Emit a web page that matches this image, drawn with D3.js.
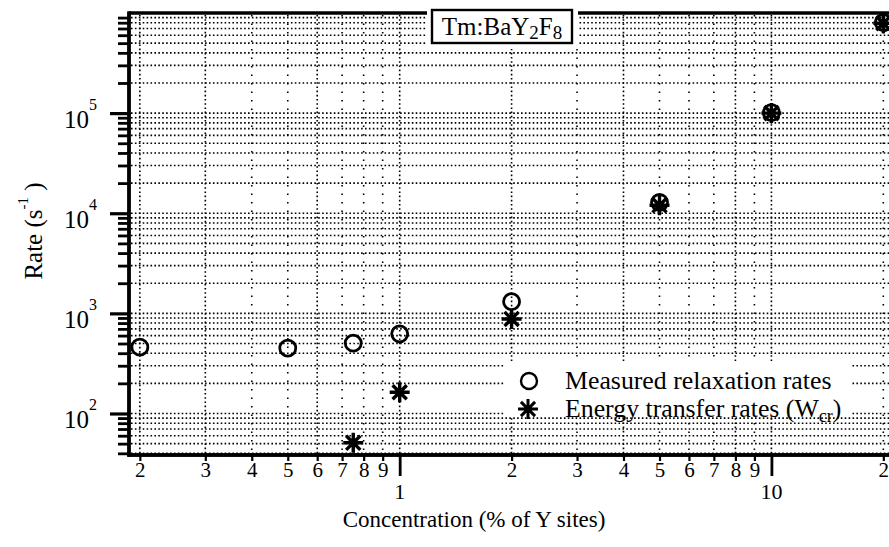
<!DOCTYPE html>
<html>
<head>
<meta charset="utf-8">
<script src="https://cdn.jsdelivr.net/npm/d3@7"></script>
<style>
  html, body { margin: 0; padding: 0; background: #fff; }
  svg { display: block; font-family: "Liberation Serif", "Times New Roman", serif; }
</style>
</head>
<body>
<svg id="chart" width="889" height="547"></svg>
<script>
// Relaxation and energy-transfer rates in Tm:BaY2F8 versus Tm concentration
const concMeasured   = [0.2, 0.5, 0.75, 1, 2, 5, 10, 20];
const measuredRates  = [460, 450, 505, 625, 1310, 12800, 101000, 800000];
const concTransfer   = [0.75, 1, 2, 5, 10, 20];
const transferRates  = [51, 163, 880, 12000, 100000, 790000];
const yDecadeLabels  = [{ v: 1e2, e: "2" }, { v: 1e3, e: "3" }, { v: 1e4, e: "4" }, { v: 1e5, e: "5" }];
const xMajorLabels   = [{ v: 1, t: "1" }, { v: 10, t: "10" }];
const legendLabels   = ["Measured relaxation rates", "Energy transfer rates (W"];

const svg = d3.select("#chart");
const x = d3.scaleLog().domain([0.187, 21.5]).range([129, 895]);
const y = d3.scaleLog().domain([38.5, 1e6]).range([455, 13]);

const [x0, x1] = x.range();
const [yb, yt] = y.range();

const lead = d => Math.round(d / Math.pow(10, Math.floor(Math.log10(d) + 1e-9)));
const isDecade = d => lead(d) === 1;

// ---- dotted grid -------------------------------------------------------
const yTicks = y.ticks().filter(d => y(d) > yt + 2 && y(d) < yb - 1);
const xTicks = x.ticks().filter(d => x(d) > x0 + 2);
// vertical lines that were printed with a tighter dot pitch
const denseX = new Set([0.2, 0.3, 0.6, 1, 2, 4, 8, 10]);

const grid = svg.append("g").attr("stroke", "#000").attr("fill", "none");
grid.selectAll("line.h").data(yTicks).join("line")
  .attr("class", "h")
  .attr("x1", x0 + 2).attr("x2", x1)
  .attr("y1", d => y(d)).attr("y2", d => y(d))
  .attr("stroke-width", 1.6)
  .attr("stroke-dasharray", "1.6,2.3");
grid.selectAll("line.v").data(xTicks).join("line")
  .attr("class", "v")
  .attr("x1", d => x(d)).attr("x2", d => x(d))
  .attr("y1", yt + 2).attr("y2", yb - 1)
  .attr("stroke-width", 1.6)
  .attr("stroke-dasharray", d => denseX.has(+d.toPrecision(3)) ? "1.6,2.6" : "1.5,7");

// ---- frame ----------------------------------------------------------
svg.append("line").attr("x1", x0).attr("x2", 889).attr("y1", yt).attr("y2", yt)
  .attr("stroke", "#000").attr("stroke-width", 3.4);

// ---- y axis ---------------------------------------------------------
const yMinor = y.ticks().filter(d => !isDecade(d));
const yMajor = y.ticks().filter(d => isDecade(d) && y(d) > yt + 2);

const yAxisMinor = svg.append("g").attr("transform", `translate(${x0},0)`)
  .call(d3.axisLeft(y).tickValues(yMinor).tickSize(11).tickSizeOuter(0).tickFormat(""));
const yAxisMajor = svg.append("g").attr("transform", `translate(${x0},0)`)
  .call(d3.axisLeft(y).tickValues(yMajor).tickSize(19).tickSizeOuter(0).tickFormat(""));
[yAxisMinor, yAxisMajor].forEach(g => {
  g.select(".domain").attr("stroke-width", 3.4).attr("d", `M0,${yt - 1.5}V${yb + 1.5}`);
});
yAxisMinor.selectAll(".tick line").attr("stroke-width", 2.8);
yAxisMajor.selectAll(".tick line").attr("stroke-width", 3.2);

const yLab = svg.append("g").selectAll("text").data(yDecadeLabels).join("text")
  .attr("x", 64).attr("y", d => y(d.v) + 15)
  .attr("font-size", 25);
yLab.append("tspan").text("10");
yLab.append("tspan").attr("dy", -18).attr("font-size", 16).text(d => d.e);

// ---- x axis ---------------------------------------------------------
const xMinor = x.ticks().filter(d => !isDecade(d));
const xMajor = x.ticks().filter(d => isDecade(d));

const xAxisMinor = svg.append("g").attr("transform", `translate(0,${yb})`)
  .call(d3.axisBottom(x).tickValues(xMinor).tickSize(6).tickSizeOuter(0).tickPadding(1)
    .tickFormat(d => String(lead(d))));
const xAxisMajor = svg.append("g").attr("transform", `translate(0,${yb})`)
  .call(d3.axisBottom(x).tickValues(xMajor).tickSize(21).tickSizeOuter(0)
    .tickFormat(""));
[xAxisMinor, xAxisMajor].forEach(g => {
  g.select(".domain").attr("stroke-width", 3.4).attr("d", `M${x0 - 1.5},0H889`);
});
xAxisMinor.selectAll(".tick line").attr("stroke-width", 2.2);
xAxisMajor.selectAll(".tick line").attr("stroke-width", 2.8);
xAxisMinor.selectAll(".tick text")
  .attr("font-family", "Liberation Serif, serif").attr("font-size", 21).attr("fill", "#000");

svg.append("g").selectAll("text").data(xMajorLabels).join("text")
  .attr("x", d => x(d.v)).attr("y", 499)
  .attr("text-anchor", "middle").attr("font-size", 22)
  .text(d => d.t);

// ---- axis titles ----------------------------------------------------
svg.append("text")
  .attr("x", 474).attr("y", 527)
  .attr("text-anchor", "middle").attr("font-size", 23)
  .text("Concentration (% of Y sites)");

const yTitle = svg.append("text")
  .attr("transform", "translate(42,231) rotate(-90)")
  .attr("text-anchor", "middle").attr("font-size", 25);
yTitle.append("tspan").text("Rate (s");
yTitle.append("tspan").attr("dy", -14).attr("font-size", 15).text("-1");
yTitle.append("tspan").attr("dy", 14).text(" )");

// ---- markers --------------------------------------------------------
const asterisk = {
  draw(ctx, size) {
    const r = Math.sqrt(size) / 2, d = r * Math.SQRT1_2;
    ctx.moveTo(0, -r); ctx.lineTo(0, r);
    ctx.moveTo(-r, 0); ctx.lineTo(r, 0);
    ctx.moveTo(-d, -d); ctx.lineTo(d, d);
    ctx.moveTo(-d, d); ctx.lineTo(d, -d);
  }
};
const circlePath = d3.symbol().type(d3.symbolCircle).size(Math.PI * 8 * 8)();
const starPath = d3.symbol().type(asterisk).size(20 * 20)();

const measured = concMeasured.map((c, i) => ({ c, v: measuredRates[i] }));
const transfer = concTransfer.map((c, i) => ({ c, v: transferRates[i] }));

svg.append("g").selectAll("path").data(measured).join("path")
  .attr("d", circlePath)
  .attr("transform", d => `translate(${x(d.c)},${y(d.v)})`)
  .attr("fill", "none").attr("stroke", "#000").attr("stroke-width", 2.8);
svg.append("g").selectAll("path").data(transfer).join("path")
  .attr("d", starPath)
  .attr("transform", d => `translate(${x(d.c)},${y(d.v)})`)
  .attr("fill", "none").attr("stroke", "#000").attr("stroke-width", 3.4);

// ---- legend ---------------------------------------------------------
const legend = svg.append("g");
legend.append("rect").attr("x", 505).attr("y", 361).attr("width", 347).attr("height", 56)
  .attr("fill", "#fff");
legend.append("path").attr("d", circlePath).attr("transform", "translate(529,381)")
  .attr("fill", "none").attr("stroke", "#000").attr("stroke-width", 2.4);
legend.append("path").attr("d", starPath).attr("transform", "translate(528,409)")
  .attr("fill", "none").attr("stroke", "#000").attr("stroke-width", 3);
legend.append("text").attr("x", 565).attr("y", 389).attr("font-size", 25.8).text(legendLabels[0]);
const l2 = legend.append("text").attr("x", 565).attr("y", 417).attr("font-size", 25.8);
l2.append("tspan").text(legendLabels[1]);
l2.append("tspan").attr("dy", 5).attr("font-size", 18).text("cr");
l2.append("tspan").attr("dy", -5).text(")");

// ---- sample label ---------------------------------------------------
const tag = svg.append("g");
tag.append("rect").attr("x", 427).attr("y", 4).attr("width", 151).attr("height", 45).attr("fill", "#fff");
tag.append("rect").attr("x", 432).attr("y", 10).attr("width", 140).attr("height", 33)
  .attr("fill", "#fff").attr("stroke", "#000").attr("stroke-width", 2.4);
const tt = tag.append("text").attr("x", 502).attr("y", 35).attr("text-anchor", "middle").attr("font-size", 25);
tt.append("tspan").text("Tm:BaY");
tt.append("tspan").attr("dy", 4).attr("font-size", 19).text("2");
tt.append("tspan").attr("dy", -4).text("F");
tt.append("tspan").attr("dy", 4).attr("font-size", 19).text("8");
</script>
</body>
</html>
